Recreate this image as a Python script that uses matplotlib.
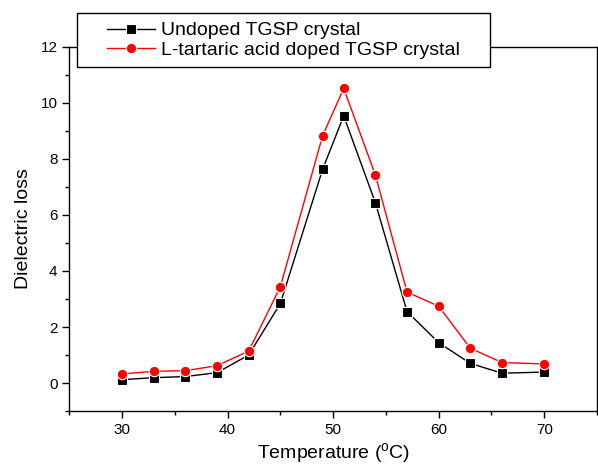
import matplotlib
matplotlib.use("Agg")
import matplotlib.pyplot as plt
from matplotlib.ticker import MultipleLocator
from matplotlib.patches import Rectangle

plt.rcParams['font.family'] = ['Liberation Sans', 'DejaVu Sans']
plt.rcParams['mathtext.fontset'] = 'custom'
plt.rcParams['mathtext.rm'] = 'Liberation Sans'

temperature = [30, 33, 36, 39, 42, 45, 49, 51, 54, 57, 60, 63, 66, 70]
undoped = [0.12, 0.19, 0.23, 0.37, 1.0, 2.84, 7.63, 9.54, 6.44, 2.55, 1.44, 0.7, 0.35, 0.39]
doped = [0.32, 0.42, 0.44, 0.62, 1.14, 3.44, 8.83, 10.52, 7.43, 3.25, 2.74, 1.24, 0.73, 0.68]

fig = plt.figure(figsize=(5.98, 4.65), dpi=100)
ax = fig.add_axes([69.3 / 598, 1 - 411 / 465, (597 - 69.3) / 598, (411 - 47) / 465])

ax.plot(temperature, undoped, color='black', lw=1, marker='s', ms=7,
        mfc='black', mec='white', mew=0.8, label='Undoped TGSP crystal')
ax.plot(temperature, doped, color='red', lw=1, marker='o', ms=7.5,
        mfc='red', mec='white', mew=0.8, label='L-tartaric acid doped TGSP crystal')

ax.set_xlim(25, 75)
ax.set_ylim(-1, 12)
ax.xaxis.set_major_locator(MultipleLocator(10))
ax.xaxis.set_minor_locator(MultipleLocator(5))
ax.yaxis.set_major_locator(MultipleLocator(2))
ax.yaxis.set_minor_locator(MultipleLocator(1))
ax.tick_params(which='both', direction='out', top=False, right=False, labelsize=11, width=1)
ax.tick_params(which='major', length=5)
ax.tick_params(which='minor', length=3)
ax.set_yticks([0, 2, 4, 6, 8, 10, 12])
for s in ax.spines.values():
    s.set_linewidth(1)

ax.set_xlabel(r'Temperature ($^\mathrm{o}$C)', fontsize=14, labelpad=3)
ax.set_ylabel('Dielectric loss', fontsize=14, labelpad=6)

# legend without frame, box drawn by hand with wider side padding
leg = ax.legend(loc='upper left', bbox_to_anchor=(98 / 598, 1 - 13 / 465),
                bbox_transform=fig.transFigure, borderaxespad=0,
                fontsize=14, frameon=False, handlelength=2.5, handletextpad=0.3,
                borderpad=0.45, labelspacing=0.08)
leg.set_zorder(6)
fig.canvas.draw()
bb = leg.get_window_extent().transformed(fig.transFigure.inverted())
padx = 21 / 598
box = Rectangle((bb.x0 - padx, bb.y0), bb.width + 2 * padx, bb.height,
                transform=fig.transFigure, facecolor='white', edgecolor='black',
                lw=1, clip_on=False, zorder=5)
ax.add_artist(box)

fig.savefig('out.png', dpi=100)
